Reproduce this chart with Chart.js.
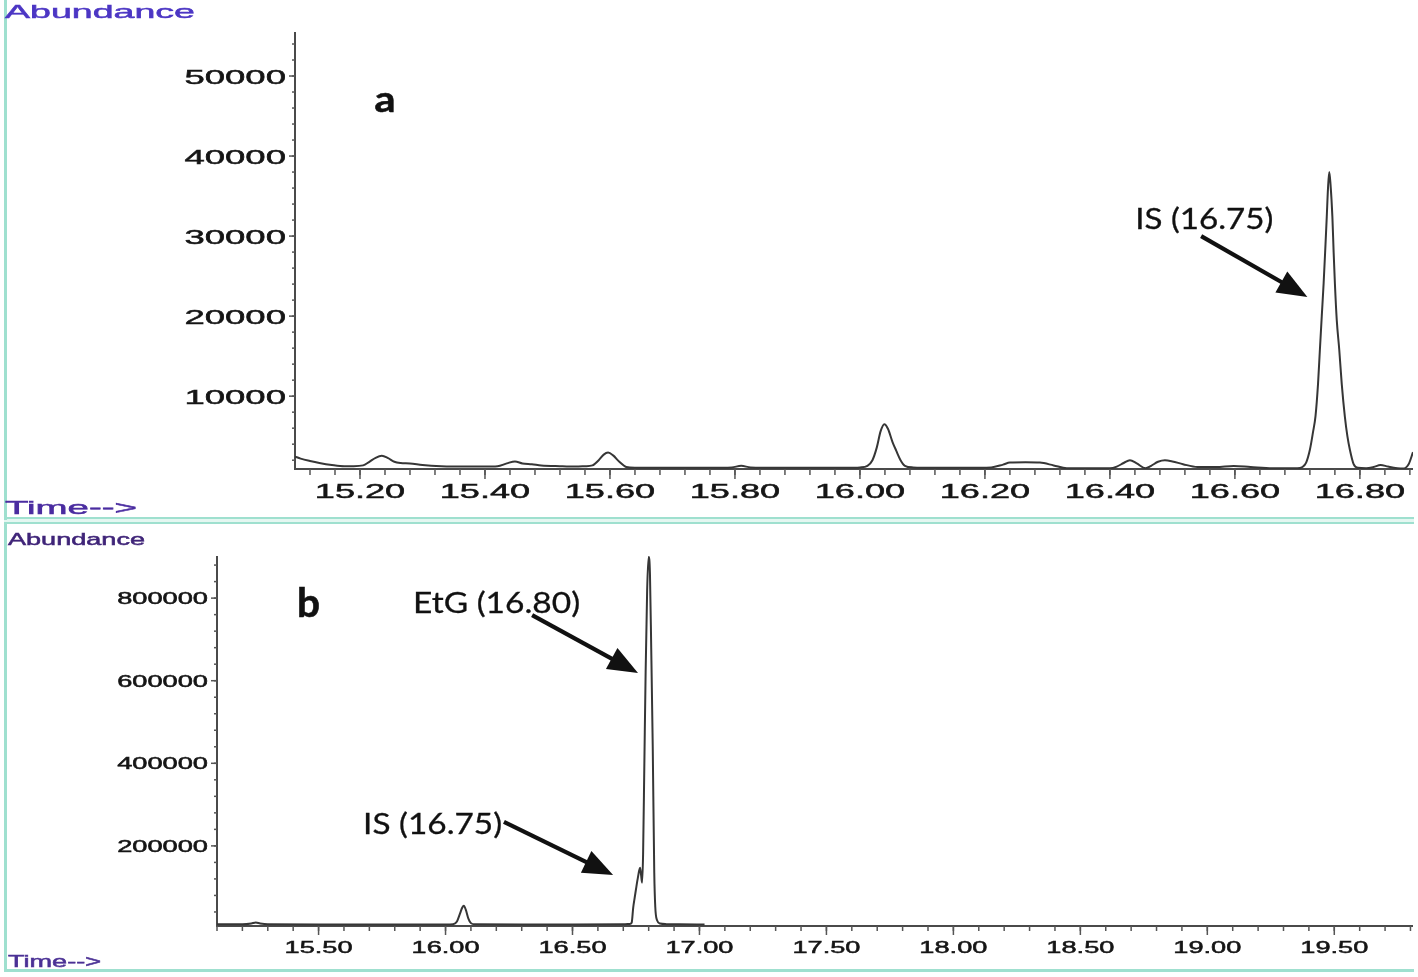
<!DOCTYPE html>
<html>
<head>
<meta charset="utf-8">
<title>EtG chromatograms</title>
<script src="https://cdn.jsdelivr.net/npm/chart.js@4.4.1/dist/chart.umd.min.js"></script>
<style>
  body { margin: 0; background: #fff; width: 1418px; height: 977px; overflow: hidden; position: relative; }
  .frame { position: absolute; background: #9fe0cf; }
  .band { position: absolute; background: #e4f7f1; }
  canvas { position: absolute; left: 0; }
</style>
</head>
<body>
<div class="band" style="left:4px;top:518px;width:1410px;height:5px"></div>
<div class="frame" style="left:4px;top:0;width:3px;height:520px"></div>
<div class="frame" style="left:4px;top:523px;width:3px;height:449px"></div>
<div class="frame" style="left:4px;top:517px;width:1410px;height:2px"></div>
<div class="frame" style="left:4px;top:522px;width:1410px;height:2px"></div>
<div class="frame" style="left:4px;top:969px;width:1410px;height:3px"></div>

<canvas id="chartA" width="1418" height="517" style="top:0"></canvas>
<canvas id="chartB" width="1418" height="446" style="top:524px"></canvas>

<script>
// panel a - retention time (min) and abundance
const timeA = [15.096, 15.105, 15.12, 15.135, 15.155, 15.175, 15.19, 15.205, 15.215, 15.225, 15.235, 15.245, 15.255,
  15.265, 15.28, 15.30, 15.33, 15.37, 15.40, 15.42, 15.435, 15.448, 15.46, 15.475, 15.49, 15.52, 15.545, 15.56,
  15.572, 15.582, 15.59, 15.597, 15.605, 15.615, 15.626, 15.64, 15.70, 15.76, 15.795, 15.81, 15.825, 15.87, 15.93,
  15.98, 16.00, 16.012, 16.02, 16.027, 16.033, 16.039, 16.045, 16.052, 16.058, 16.065, 16.072, 16.085, 16.12, 16.17,
  16.21, 16.229, 16.24, 16.265, 16.288, 16.31, 16.331, 16.37, 16.40, 16.411, 16.422, 16.432, 16.443, 16.457, 16.466,
  16.477, 16.488, 16.50, 16.517, 16.54, 16.57, 16.598, 16.625, 16.66, 16.70, 16.708, 16.714, 16.72, 16.725, 16.729,
  16.733, 16.736, 16.739, 16.742, 16.745, 16.747, 16.749, 16.751, 16.753, 16.756, 16.758, 16.76, 16.763, 16.767,
  16.771, 16.776, 16.78, 16.784, 16.79, 16.797, 16.81, 16.822, 16.833, 16.845, 16.86, 16.869, 16.878, 16.885];
const abundA = [2450, 2200, 1900, 1650, 1400, 1250, 1250, 1350, 1800, 2300, 2550, 2250, 1800,
  1650, 1600, 1400, 1250, 1200, 1200, 1250, 1600, 1850, 1600, 1500, 1350, 1250, 1200, 1250,
  1350, 2000, 2700, 2950, 2600, 1800, 1150, 1050, 1050, 1050, 1100, 1300, 1100, 1050, 1050,
  1050, 1100, 1300, 2000, 3600, 5600, 6500, 5900, 4300, 3200, 2000, 1300, 1100, 1050, 1050,
  1100, 1450, 1700, 1750, 1700, 1350, 1000, 1000, 1000, 1200, 1650, 2000, 1600, 1000, 1300,
  1800, 1990, 1850, 1500, 1150, 1150, 1280, 1150, 1000, 1000, 1150, 1700, 3300, 5500, 7500,
  11500, 15800, 20000, 24100, 29000, 32400, 36000, 38000, 36500, 32400, 28000, 24100, 19500, 15800,
  11500, 7400, 5000, 3300, 1500, 1050, 1000, 1150, 1400, 1200, 1000, 950, 1500, 3000];
const timeTicksA = ['15.20', '15.40', '15.60', '15.80', '16.00', '16.20', '16.40', '16.60', '16.80'];
const abundTicksA = ['10000', '20000', '30000', '40000', '50000'];

// panel b
const timeB = [15.10, 15.20, 15.235, 15.253, 15.27, 15.30, 15.50, 15.80, 16.00, 16.03, 16.045, 16.058, 16.066, 16.072,
  16.08, 16.09, 16.10, 16.115, 16.30, 16.50, 16.70, 16.725, 16.733, 16.739, 16.745, 16.75, 16.758, 16.766, 16.77,
  16.774, 16.778, 16.783, 16.788, 16.794, 16.80, 16.805, 16.81, 16.816, 16.822, 16.826, 16.833, 16.845, 16.87, 16.92, 17.02];
const abundB = [10000, 10000, 12000, 14500, 12000, 10000, 9500, 9500, 9500, 10500, 17000, 38000, 51000, 55000,
  45000, 24000, 13000, 10000, 9500, 9500, 10000, 11000, 14000, 50000, 75000, 95000, 125000, 147000, 130000,
  111000, 180000, 400000, 620000, 820000, 900000, 860000, 680000, 440000, 135000, 52000, 20000, 12000, 10500, 10000, 9500];
const timeTicksB = ['15.50', '16.00', '16.50', '17.00', '17.50', '18.00', '18.50', '19.00', '19.50'];
const abundTicksB = ['200000', '400000', '600000', '800000'];

function points(ts, vs) {
  return ts.map((t, i) => ({ x: t, y: vs[i] }));
}

// ChemStation text is wide, so stretch horizontally; thin stroke gives the heavier look
function wideText(ctx, txt, x, y, font, sx, align, color, stroke) {
  ctx.save();
  ctx.font = font;
  ctx.fillStyle = color;
  ctx.strokeStyle = color;
  ctx.textBaseline = 'alphabetic';
  ctx.textAlign = align;
  ctx.translate(x, y);
  ctx.scale(sx, 1);
  ctx.fillText(txt, 0, 0);
  if (stroke) {
    ctx.lineWidth = stroke;
    ctx.strokeText(txt, 0, 0);
  }
  ctx.restore();
}

function fitText(ctx, txt, x, y, font, width, align, color, stroke) {
  ctx.save();
  ctx.font = font;
  const sx = width / ctx.measureText(txt).width;
  ctx.restore();
  wideText(ctx, txt, x, y, font, sx, align, color, stroke);
}

function arrow(ctx, x1, y1, x2, y2) {
  const ang = Math.atan2(y2 - y1, x2 - x1);
  const head = 30, half = 12;
  const bx = x2 - head * Math.cos(ang), by = y2 - head * Math.sin(ang);
  ctx.save();
  ctx.strokeStyle = '#111';
  ctx.fillStyle = '#111';
  ctx.lineWidth = 4.2;
  ctx.beginPath();
  ctx.moveTo(x1, y1);
  ctx.lineTo(bx + 2 * Math.cos(ang), by + 2 * Math.sin(ang));
  ctx.stroke();
  ctx.beginPath();
  ctx.moveTo(x2, y2);
  ctx.lineTo(bx + half * Math.sin(ang), by - half * Math.cos(ang));
  ctx.lineTo(bx - half * Math.sin(ang), by + half * Math.cos(ang));
  ctx.closePath();
  ctx.fill();
  ctx.restore();
}

function decor(cfg) {
  return {
    id: 'decor',
    beforeDatasetsDraw(chart) {
      const { ctx, chartArea: a, scales: { x, y } } = chart;
      ctx.save();
      ctx.strokeStyle = '#4a4a4a';
      ctx.lineWidth = 2;
      ctx.beginPath();
      ctx.moveTo(a.left, a.top);
      ctx.lineTo(a.left, a.bottom);
      ctx.lineTo(a.right, a.bottom);
      ctx.stroke();

      ctx.lineWidth = 1.5;
      ctx.strokeStyle = '#555';
      // minor ticks
      for (let i = Math.ceil(x.min / cfg.xMinor); i * cfg.xMinor <= x.max; i++) {
        const px = x.getPixelForValue(i * cfg.xMinor);
        ctx.beginPath(); ctx.moveTo(px, a.bottom); ctx.lineTo(px, a.bottom + cfg.xMinorLen); ctx.stroke();
      }
      for (let i = Math.ceil(y.min / cfg.yMinor); i * cfg.yMinor <= y.max; i++) {
        const py = y.getPixelForValue(i * cfg.yMinor);
        ctx.beginPath(); ctx.moveTo(a.left, py); ctx.lineTo(a.left - 3, py); ctx.stroke();
      }
      // major ticks + labels
      cfg.xTicks.forEach(lbl => {
        const px = x.getPixelForValue(parseFloat(lbl));
        ctx.beginPath(); ctx.moveTo(px, a.bottom); ctx.lineTo(px, a.bottom + cfg.xMajorLen); ctx.stroke();
        wideText(ctx, lbl, px, a.bottom + cfg.xLabelDy, cfg.xFont, cfg.xStretch, 'center', '#151515', 0.5);
      });
      cfg.yTicks.forEach(lbl => {
        const py = y.getPixelForValue(parseFloat(lbl));
        ctx.beginPath(); ctx.moveTo(a.left, py); ctx.lineTo(a.left - 6, py); ctx.stroke();
        wideText(ctx, lbl, a.left - 9, py + cfg.yLabelDy, cfg.yFont, cfg.yStretch, 'right', '#151515', 0.5);
      });
      ctx.restore();
    },
    afterDraw(chart) {
      const { ctx, scales: { x, y } } = chart;
      const t = cfg.frameText;
      fitText(ctx, 'Abundance', t.abX, t.abY, t.abFont, t.abW, 'left', t.abColor, 0.5);
      fitText(ctx, 'Time-->', t.tmX, t.tmY, t.tmFont, t.tmW, 'left', t.tmColor, 0.5);

      const L = cfg.letter;
      fitText(ctx, L.text, x.getPixelForValue(L.x), y.getPixelForValue(L.y), L.font, L.w, 'center', '#111', 0.6);

      cfg.notes.forEach(n => {
        fitText(ctx, n.text, x.getPixelForValue(n.x), y.getPixelForValue(n.y), '29px Lato', n.w, 'center', '#111', 0.3);
        arrow(ctx, x.getPixelForValue(n.from[0]), y.getPixelForValue(n.from[1]),
          x.getPixelForValue(n.to[0]), y.getPixelForValue(n.to[1]));
      });
    }
  };
}

function makeChart(id, pts, xr, yr, pad, cfg) {
  return new Chart(document.getElementById(id), {
    type: 'line',
    data: {
      datasets: [{
        data: pts,
        borderColor: '#363636',
        borderWidth: 2,
        pointRadius: 0,
        fill: false,
        cubicInterpolationMode: 'monotone'
      }]
    },
    options: {
      responsive: false,
      animation: false,
      events: [],
      layout: { padding: pad },
      scales: {
        x: { type: 'linear', min: xr[0], max: xr[1], display: false },
        y: { type: 'linear', min: yr[0], max: yr[1], display: false }
      },
      plugins: { legend: { display: false }, tooltip: { enabled: false } }
    },
    plugins: [decor(cfg)]
  });
}

makeChart('chartA', points(timeA, abundA), [15.096, 16.885], [900, 55500],
  { left: 295, right: 5, top: 32, bottom: 48 },
  {
    xTicks: timeTicksA, yTicks: abundTicksA,
    xMinor: 0.04, yMinor: 2000, xMinorLen: 6, xMajorLen: 10,
    xFont: '21px "Liberation Sans", Arial', xStretch: 1.72, xLabelDy: 29,
    yFont: '21px "Liberation Sans", Arial', yStretch: 1.74, yLabelDy: 7.5,
    frameText: {
      abX: 5, abY: 18, abFont: '19px "Liberation Sans", Arial', abW: 190, abColor: '#4c36c4',
      tmX: 5, tmY: 514, tmFont: '18px "Liberation Sans", Arial', tmW: 132, tmColor: '#4a2ca0'
    },
    letter: { text: 'a', x: 15.240, y: 45500, font: 'bold 36px Lato', w: 21 },
    notes: [
      { text: 'IS (16.75)', x: 16.551, y: 30900, w: 138, from: [16.546, 30000], to: [16.716, 22400] }
    ]
  });

makeChart('chartB', points(timeB, abundB), [15.10, 19.81], [6000, 902000],
  { left: 217, right: 5, top: 32, bottom: 44 },
  {
    xTicks: timeTicksB, yTicks: abundTicksB,
    xMinor: 0.1, yMinor: 40000, xMinorLen: 5, xMajorLen: 9,
    xFont: '17px "Liberation Sans", Arial', xStretch: 1.6, xLabelDy: 27,
    yFont: '16px "Liberation Sans", Arial', yStretch: 1.7, yLabelDy: 6,
    frameText: {
      abX: 8, abY: 21, abFont: '17px "Liberation Sans", Arial', abW: 137, abColor: '#3f2478',
      tmX: 8, tmY: 443, tmFont: '16px "Liberation Sans", Arial', tmW: 93, tmColor: '#4b3195'
    },
    letter: { text: 'b', x: 15.460, y: 754000, font: 'bold 40px Lato', w: 23 },
    notes: [
      { text: 'EtG (16.80)', x: 16.201, y: 764000, w: 167, from: [16.341, 759000], to: [16.758, 618700] },
      { text: 'IS (16.75)', x: 15.949, y: 228800, w: 139, from: [16.230, 257900], to: [16.660, 129500] }
    ]
  });
</script>
</body>
</html>
